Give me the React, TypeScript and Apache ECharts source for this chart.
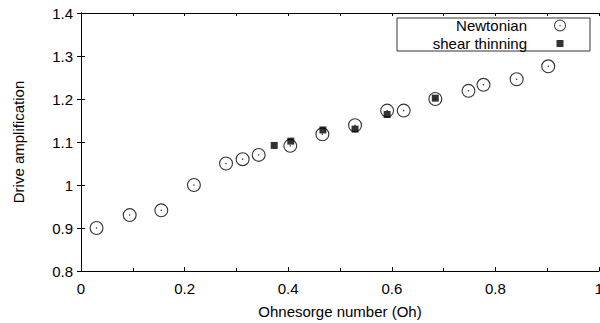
import React, { useEffect, useRef } from "react";
import * as echarts from "echarts";

const newtonianOh = [0.030, 0.094, 0.155, 0.218, 0.280, 0.312, 0.343, 0.404, 0.466, 0.529, 0.591, 0.623, 0.684, 0.748, 0.777, 0.841, 0.902];
const newtonianAmp = [0.900, 0.930, 0.941, 1.000, 1.050, 1.060, 1.070, 1.091, 1.118, 1.139, 1.173, 1.173, 1.200, 1.219, 1.233, 1.246, 1.276];
const shearOh = [0.373, 0.405, 0.467, 0.529, 0.591, 0.684];
const shearAmp = [1.092, 1.102, 1.128, 1.130, 1.164, 1.202];

const seriesNames = ["Newtonian", "shear thinning"];
const xTitle = "Ohnesorge number (Oh)";
const yTitle = "Drive amplification";

const FONT = "Liberation Sans, Arial, Helvetica, sans-serif";

const circleDot =
  "path://M0,-10A10,10 0 1,1 0,10A10,10 0 1,1 0,-10Z" +
  "M0,-8.4A8.4,8.4 0 1,0 0,8.4A8.4,8.4 0 1,0 0,-8.4Z" +
  "M0,-1.1A1.1,1.1 0 1,1 0,1.1A1.1,1.1 0 1,1 0,-1.1Z";

const squareIcon = "path://M0,0L0.01,0L0,0.01Z M12,12L11.99,12L12,11.99Z M2.5,2.5H9.5V9.5H2.5Z";

export default function App() {
  const ref = useRef<HTMLDivElement>(null);
  useEffect(() => {
    if (!ref.current) return;
    const chart = echarts.init(ref.current, null, { renderer: "svg" });
    const axisLine = { show: true, lineStyle: { color: "#000", width: 1 } };
    chart.setOption({
      animation: false,
      backgroundColor: "#fff",
      textStyle: { fontFamily: FONT },
      grid: { left: 81, right: 1, top: 13, bottom: 52, containLabel: false, outerBoundsMode: "none" },
      legend: {
        orient: "vertical",
        right: 10,
        top: 18,
        align: "right",
        borderColor: "#333",
        borderWidth: 1,
        borderRadius: 0,
        padding: [0, 24, 0, 2],
        itemGap: 3,
        itemWidth: 12,
        itemHeight: 12,
        data: [
          { name: seriesNames[0], icon: circleDot },
          { name: seriesNames[1], icon: squareIcon },
        ],
        textStyle: {
          fontFamily: FONT,
          fontSize: 15,
          color: "#000",
          width: 128,
          align: "right",
          lineHeight: 14,
          padding: [0, 22, 0, 0],
        },
      },
      xAxis: [
        {
          type: "value",
          position: "bottom",
          min: 0,
          max: 1,
          interval: 0.2,
          name: xTitle,
          nameLocation: "middle",
          nameGap: 33,
          nameTextStyle: { fontFamily: FONT, fontSize: 15, color: "#000" },
          axisLine,
          axisTick: { show: true, inside: true, length: 4, lineStyle: { color: "#000" } },
          minorTick: { show: true, splitNumber: 2, length: 3, lineStyle: { color: "#000" } },
          axisLabel: {
            fontFamily: FONT,
            fontSize: 15,
            color: "#000",
            margin: 10,
            alignMaxLabel: "center",
            alignMinLabel: "center",
            formatter: (v: number) => String(+v.toFixed(2)),
          },
          splitLine: { show: false },
        },
        {
          type: "value",
          position: "top",
          min: 0,
          max: 1,
          interval: 0.1,
          axisLine,
          axisTick: { show: true, inside: true, length: 3, lineStyle: { color: "#000" } },
          axisLabel: { show: false },
          splitLine: { show: false },
        },
      ],
      yAxis: [
        {
          type: "value",
          position: "left",
          min: 0.8,
          max: 1.4,
          interval: 0.1,
          name: yTitle,
          nameLocation: "middle",
          nameGap: 55,
          nameTextStyle: { fontFamily: FONT, fontSize: 15, color: "#000" },
          axisLine,
          axisTick: { show: true, inside: true, length: 4, lineStyle: { color: "#000" } },
          axisLabel: { fontFamily: FONT, fontSize: 15, color: "#000", margin: 8, formatter: (v: number) => String(+v.toFixed(2)) },
          splitLine: { show: false },
        },
        {
          type: "value",
          position: "right",
          min: 0.8,
          max: 1.4,
          interval: 0.1,
          axisLine,
          axisTick: { show: true, inside: true, length: 4, lineStyle: { color: "#000" } },
          axisLabel: { show: false },
          splitLine: { show: false },
        },
      ],
      series: [
        {
          name: seriesNames[0],
          type: "scatter",
          xAxisIndex: 0,
          yAxisIndex: 0,
          symbol: circleDot,
          symbolSize: 14,
          itemStyle: { color: "#000" },
          data: newtonianOh.map((x, i) => [x, newtonianAmp[i]]),
        },
        {
          name: seriesNames[1],
          type: "scatter",
          xAxisIndex: 0,
          yAxisIndex: 0,
          symbol: "rect",
          symbolSize: 7,
          itemStyle: { color: "#000" },
          data: shearOh.map((x, i) => [x, shearAmp[i]]),
        },
      ],
    });
    return () => chart.dispose();
  }, []);
  return (
    <div
      ref={ref}
      style={{ position: "fixed", left: 0, top: 0, width: 600, height: 323 }}
    />
  );
}
